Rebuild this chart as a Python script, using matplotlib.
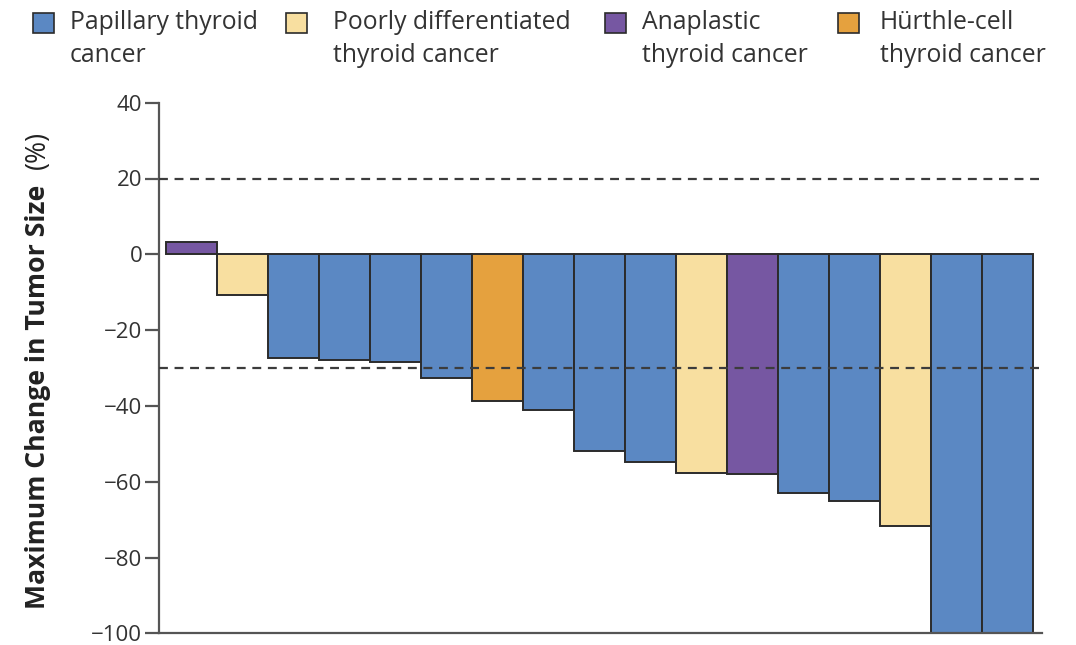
import matplotlib.pyplot as plt
from matplotlib.patches import Rectangle

plt.rcParams['font.family'] = ['Open Sans', 'DejaVu Sans']

# Best change in tumor size per patient, sorted, with histology
changes = [3.3, -10.8, -27.4, -27.8, -28.5, -32.7, -38.7, -41.0, -51.8,
           -54.7, -57.8, -58.1, -63.1, -65.1, -71.8, -100, -100]
histology = ['ana', 'pdtc', 'ptc', 'ptc', 'ptc', 'ptc', 'hur', 'ptc', 'ptc',
             'ptc', 'pdtc', 'ana', 'ptc', 'ptc', 'pdtc', 'ptc', 'ptc']

legend_keys = ['ptc', 'pdtc', 'ana', 'hur']
legend_labels = ['Papillary thyroid\ncancer', 'Poorly differentiated\nthyroid cancer',
                 'Anaplastic\nthyroid cancer', 'Hürthle-cell\nthyroid cancer']
colors = {'ptc': '#5b88c3', 'pdtc': '#f8dfa0', 'ana': '#7657a2', 'hur': '#e5a13e'}

thresholds = [20, -30]
yticks = [40, 20, 0, -20, -40, -60, -80, -100]

W, H = 1076, 645
fig = plt.figure(figsize=(W / 100, H / 100), dpi=100)
ax = fig.add_axes([159 / W, 1 - 633.3 / H, (1042 - 159) / W, (633.3 - 102.7) / H])

x = list(range(len(changes)))
ax.bar(x, changes, width=1.0, color=[colors[h] for h in histology],
       edgecolor='#2b2b2b', linewidth=1.4, zorder=2)

for t in thresholds:
    ax.axhline(t, color='#3c3c3c', linestyle=(0, (4, 3)), linewidth=1.6, zorder=3)

ax.set_xlim(-0.637, 16.676)
ax.set_ylim(-100, 40)
ax.set_yticks(yticks)
ax.set_yticklabels([str(v).replace('-', '\u2212') for v in yticks])
ax.set_xticks([])

for side in ['top', 'right']:
    ax.spines[side].set_visible(False)
for side in ['left', 'bottom']:
    ax.spines[side].set_color('#555555')
    ax.spines[side].set_linewidth(1.6)

ax.tick_params(axis='y', direction='out', length=10, width=1.6, color='#555555',
               pad=2, labelsize=16, labelcolor='#333333')

# Axis title: bold words, regular unit, sharing one baseline
fig.text(45 / W, 1 - 609 / H, 'Maximum Change in Tumor Size', rotation=90,
         rotation_mode='anchor', fontsize=19.2, fontweight='bold', color='#222222',
         ha='left', va='baseline')
fig.text(45 / W, 1 - 131 / H, '(%)', rotation=90, rotation_mode='anchor',
         fontsize=19.2, color='#222222', ha='right', va='baseline')

# Legend row across the top
box_x = [33, 286, 605, 838]
text_x = [70, 333, 642, 880]
for key, label, bx, tx in zip(legend_keys, legend_labels, box_x, text_x):
    fig.add_artist(Rectangle((bx / W, 1 - 33 / H), 21 / W, 20 / H,
                             transform=fig.transFigure, facecolor=colors[key],
                             edgecolor='#2b2b2b', linewidth=1.2))
    fig.text(tx / W, 1 - 10 / H, label, fontsize=17.8, color='#333333',
             va='top', ha='left', linespacing=1.42)

fig.savefig('out.png', dpi=100)
